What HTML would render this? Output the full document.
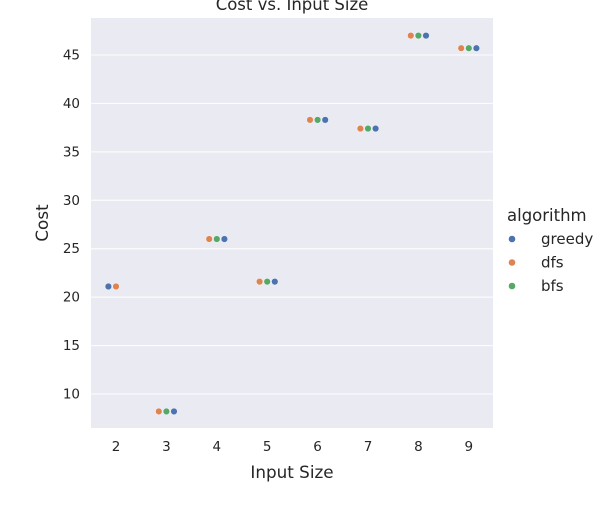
<!DOCTYPE html>
<html><head><meta charset="utf-8"><style>
html,body{margin:0;padding:0;background:#fff;}
svg text{font-family:"DejaVu Sans","Liberation Sans",sans-serif;fill:#262626;}
</style></head><body>
<svg id="chart" width="608" height="500" xmlns="http://www.w3.org/2000/svg">
<rect x="91" y="18" width="402" height="410" fill="#eaeaf2"/>
<g id="grid"></g>
<g id="yticks"></g>
<g id="xticks"></g>
<g id="points"></g>
<text x="292" y="10" text-anchor="middle" font-size="16.5">Cost vs. Input Size</text>
<text x="292" y="478" text-anchor="middle" font-size="16.8">Input Size</text>
<text x="48" y="223" text-anchor="middle" font-size="16.8" transform="rotate(-90 48 223)">Cost</text>
<g id="legend">
<text x="507" y="221" font-size="16.5">algorithm</text>
</g>
</svg>
<script>
const categories = [2,3,4,5,6,7,8,9];
const algorithms = ['greedy','dfs','bfs'];
const greedy = [21.1,8.2,26,21.6,38.3,37.4,47,45.7];
const dfs = [21.1,8.2,26,21.6,38.3,37.4,47,45.7];
const bfs = [null,8.2,26,21.6,38.3,37.4,47,45.7];
const yTicks = [10,15,20,25,30,35,40,45];
const colors = {greedy:'#4c72b0', dfs:'#dd8452', bfs:'#55a868'};
const NS='http://www.w3.org/2000/svg';
function xScale(i){return 116 + i*50.4;}
function yScale(v){return 394 - (v-10)*9.686;}
function mk(tag,attrs,parent){const e=document.createElementNS(NS,tag);for(const k in attrs)e.setAttribute(k,attrs[k]);parent.appendChild(e);return e;}
const grid=document.getElementById('grid'), yt=document.getElementById('yticks'), xt=document.getElementById('xticks'), pts=document.getElementById('points');
yTicks.forEach(t=>{
  const y=yScale(t);
  const l=mk('line',{x1:91,x2:493,y1:y,y2:y,stroke:'#fff','stroke-width':1},grid);
  
  
  const tx=mk('text',{x:80,y:y+4.5,'text-anchor':'end','font-size':13.5},yt);
  tx.textContent=t;
  
  
});
categories.forEach((c,i)=>{
  const tx=mk('text',{x:xScale(i),y:451,'text-anchor':'middle','font-size':13.5},xt);
  tx.textContent=c;
  
  
});
const series={greedy,dfs,bfs};
const step=7.6;
categories.forEach((c,i)=>{
  const present=algorithms.filter(a=>series[a][i]!==null && series[a][i]!==undefined);
  let offs={};
  if(present.length===3){offs={dfs:-1,bfs:0,greedy:1};}
  else if(present.length===2){offs={greedy:-1,dfs:0,bfs:0};}
  else offs={greedy:0,dfs:0,bfs:0};
  present.forEach(a=>{
    const p=mk('circle',{cx:xScale(i)+offs[a]*step,cy:yScale(series[a][i]),r:3.3,fill:colors[a],stroke:'#fff','stroke-width':0.4},pts);
    
    
  });
});
const lg=document.getElementById('legend');
algorithms.forEach((a,k)=>{
  const y=239+k*23.5;
  const m=mk('circle',{cx:512,cy:y,r:3.3,fill:colors[a]},lg);
  
  
  const t=mk('text',{x:541,y:y+5,'font-size':15},lg);
  t.textContent=a;
  
  
});
</script>
</body></html>
